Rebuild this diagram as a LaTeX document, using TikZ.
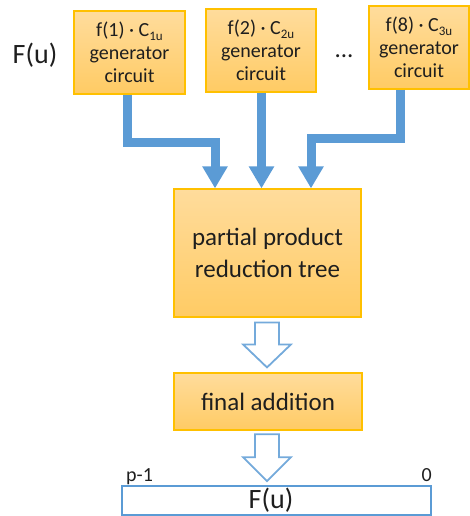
\documentclass[tikz,border=0pt]{standalone}
\usepackage{fontspec}
\setmainfont{Carlito}
\usetikzlibrary{arrows.meta,calc}
\definecolor{gold}{HTML}{FFC000}
\definecolor{goldtop}{HTML}{FFDC9C}
\definecolor{goldbot}{HTML}{FFCB64}
\definecolor{blu}{HTML}{5B9BD5}
\definecolor{txt}{HTML}{1E1E1E}
\newcommand\subtxt[1]{\raisebox{-0.35ex}{\fontsize{13}{13}\selectfont #1}}
\begin{document}
\begin{tikzpicture}[x=1pt,y=-1pt,
  gbox/.style={draw=gold, line width=1.2pt, top color=goldtop, bottom color=goldbot,
    inner sep=0pt, align=center, text=txt},
  smallbox/.style={gbox, minimum height=83pt, font=\fontsize{20}{23}\selectfont},
  fat/.style={draw=blu, line width=9pt, miter limit=10,
    -{Triangle[width=24pt,length=22pt]}},
  hollow/.style={draw=blu!85, line width=1.8pt, fill=white, line join=miter},
  lbl/.style={text=txt, inner sep=0pt}]
\useasboundingbox (0,0) rectangle (470,516);

% generator boxes
\node[smallbox, minimum width=111pt] (b1) at (129.5,52.5)
  {f(1) · C\subtxt{1u}\\generator\\circuit};
\node[smallbox, minimum width=110pt] (b2) at (261,50.5)
  {f(2) · C\subtxt{2u}\\generator\\circuit};
\node[smallbox, minimum width=100pt] (b3) at (419,47.5)
  {f(8) · C\subtxt{3u}\\generator\\circuit};

\node[lbl, font=\fontsize{28}{30}\selectfont, anchor=base] (fu) at (35,64) {F(u)};
\node[lbl, font=\fontsize{25}{30}\selectfont, anchor=base] (dots) at (344,58) {...};

% reduction tree
\node[gbox, minimum width=187pt, minimum height=128pt,
  font=\fontsize{25}{32}\selectfont] (ppr) at (267.5,253)
  {partial product\\reduction tree};

% final addition
\node[gbox, minimum width=188pt, minimum height=57pt,
  font=\fontsize{25}{30}\selectfont] (fa) at (268,401.5) {final addition};

% output register
\node[draw=blu, line width=1.6pt, minimum width=309pt, minimum height=29pt,
  inner sep=0pt] (out) at (276.5,500.5) {};
\node[lbl, font=\fontsize{28}{30}\selectfont] (outtxt) at ($(out.center)+(-5.5,0)$) {F(u)};
\node[lbl, font=\fontsize{20}{24}\selectfont, anchor=base west] (msb) at (126,481) {p-1};
\node[lbl, font=\fontsize{20}{24}\selectfont, anchor=base east] (lsb) at (432,481) {0};

% thick arrows
\draw[fat] ($(b1.south)+(-2,0)$) -- ++(0,47.5) -| ($(ppr.north)+(-52.5,0)$);
\draw[fat] ($(b2.south)+(0.5,0)$) -- ($(ppr.north)+(-6,0)$);
\draw[fat] ($(b3.south)+(-19,0)$) -- ++(0,48.5) -| ($(ppr.north)+(43.5,0)$);

% hollow arrows
\coordinate (t1) at ($(fa.north)+(-1,-5)$);
\draw[hollow] (t1) -- ++(24,-23) -- ++(-12,0) -- ++(0,-22) -- ++(-24,0)
  -- ++(0,22) -- ++(-12,0) -- cycle;
\coordinate (t2) at ($(out.north)+(-9.5,-4)$);
\draw[hollow] (t2) -- ++(24,-24) -- ++(-12,0) -- ++(0,-23) -- ++(-24,0)
  -- ++(0,23) -- ++(-12,0) -- cycle;
\end{tikzpicture}
\end{document}
